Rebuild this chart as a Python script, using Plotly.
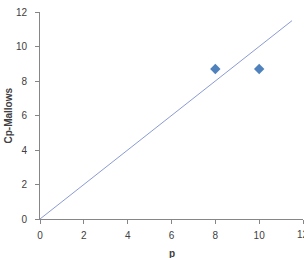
import plotly.graph_objects as go

p_vals = [8, 10]
cp_vals = [8.7, 8.7]
ref_x = [0, 11.5]
ref_y = [0, 11.5]
tick_vals = [0, 2, 4, 6, 8, 10, 12]
x_tick_text = ["0", "2", "4", "6", "8", "10", ""]

fig = go.Figure()
fig.add_trace(go.Scatter(x=ref_x, y=ref_y, mode="lines",
                         line=dict(color="#8A9BD2", width=1), showlegend=False))
fig.add_trace(go.Scatter(x=p_vals, y=cp_vals, mode="markers",
                         marker=dict(symbol="diamond", size=8, color="#4F81BD"),
                         showlegend=False))

font = dict(family="Liberation Sans", size=10, color="#404040")
axis_common = dict(range=[0, 12], showgrid=False, zeroline=False,
                   showline=True, linecolor="#868686", linewidth=1,
                   ticks="outside", ticklen=4, tickcolor="#868686",
                   tickfont=font)
fig.update_xaxes(**axis_common, tickvals=tick_vals, ticktext=x_tick_text, ticklabelstandoff=3)
fig.update_yaxes(**axis_common, tickvals=tick_vals, ticklabelstandoff=6)

fig.update_layout(
    width=304, height=258,
    margin=dict(l=40, r=1, t=12, b=39),
    paper_bgcolor="white", plot_bgcolor="white",
    annotations=[
        dict(text=str(tick_vals[-1]), xref="x", yref="paper", x=tick_vals[-1], y=0, yshift=-15,
             xanchor="center", yanchor="middle", showarrow=False, font=font),
        dict(text="<b>p</b>", xref="paper", yref="paper", x=0.5, y=0, yshift=-34,
             xanchor="center", yanchor="middle", showarrow=False, font=font),
        dict(text="<b>Cp-Mallows</b>", xref="paper", yref="paper", x=0, y=0.5, xshift=-32,
             xanchor="center", yanchor="middle",
             textangle=-90, showarrow=False, font=font),
    ],
)
fig.write_html("out.html")
